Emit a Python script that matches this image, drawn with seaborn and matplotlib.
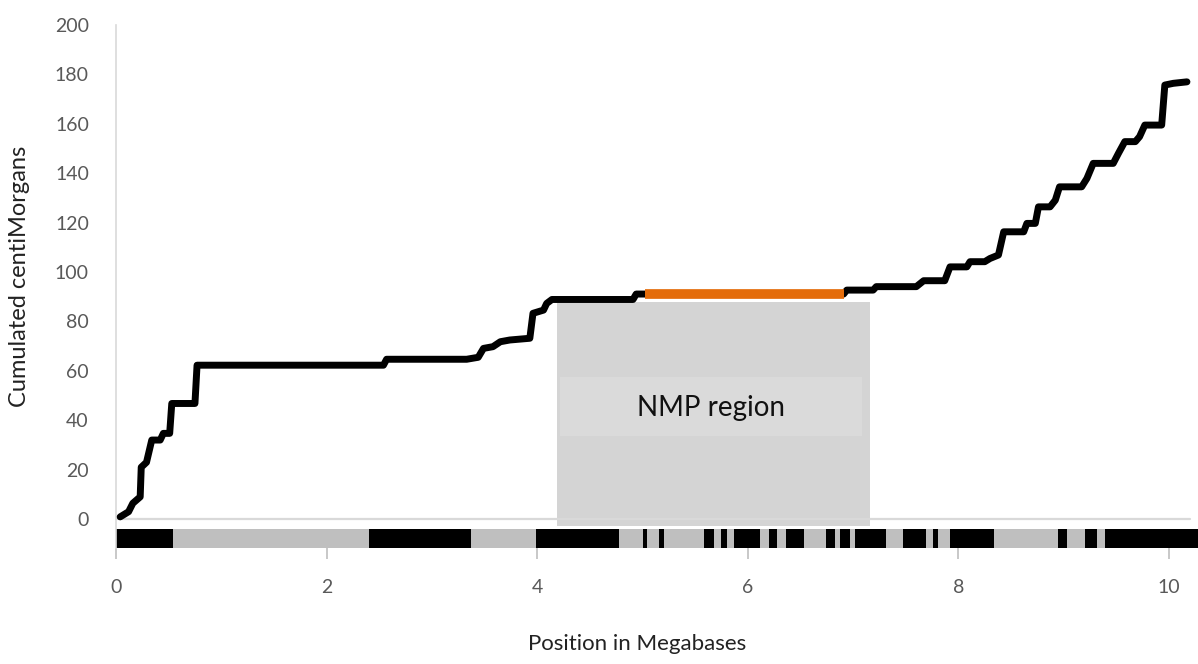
import matplotlib
matplotlib.use("Agg")
import matplotlib.pyplot as plt
import pandas as pd
import seaborn as sns

# cumulated genetic map (Mb vs cM)
position_mb = [
    0.04, 0.12, 0.16, 0.23, 0.24, 0.29, 0.34, 0.42, 0.45, 0.51, 0.53, 0.75, 0.77,
    2.54, 2.57, 3.33, 3.44, 3.49, 3.58, 3.65, 3.74, 3.93, 3.96, 4.06, 4.09, 4.14,
    4.91, 4.94, 5.02, 6.91, 6.94, 7.19, 7.22, 7.60, 7.67, 7.87, 7.92, 8.08, 8.11,
    8.25, 8.30, 8.38, 8.43, 8.62, 8.65, 8.73, 8.76, 8.87, 8.92, 8.96, 9.17, 9.22,
    9.28, 9.47, 9.52, 9.58, 9.68, 9.72, 9.77, 9.93, 9.96, 10.04, 10.17,
]
cumulated_cm = [
    0.9, 3.0, 6.4, 9.0, 21.0, 23.0, 32.0, 32.0, 34.7, 34.7, 46.8, 46.8, 62.3,
    62.3, 64.7, 64.7, 65.5, 69.1, 69.8, 71.8, 72.5, 73.2, 83.3, 84.6, 87.3, 88.9,
    88.9, 91.1, 91.1, 91.1, 92.7, 92.7, 94.1, 94.1, 96.5, 96.5, 102.1, 102.1, 104.2,
    104.2, 105.5, 106.9, 116.3, 116.3, 119.7, 119.7, 126.4, 126.4, 129.1, 134.5, 134.5, 137.9,
    144.0, 144.0, 148.1, 152.8, 152.8, 154.8, 159.5, 159.5, 175.7, 176.4, 177.0,
]

# NMP region and the recombination-free stretch inside it
nmp_start, nmp_end, nmp_top = 4.19, 7.16, 88.0
flat_start, flat_end, flat_cm = 5.02, 6.91, 91.1

# chromosome bar: black blocks over a grey background
chrom_end = 10.275
black_starts = [0.0, 2.40, 3.99, 5.00, 5.16, 5.58, 5.75, 5.87, 6.20, 6.36,
                6.74, 6.88, 7.02, 7.47, 7.76, 7.92, 8.95, 9.20, 9.39]
black_ends = [0.545, 3.37, 4.78, 5.04, 5.20, 5.68, 5.80, 6.12, 6.28, 6.53,
              6.83, 6.97, 7.31, 7.69, 7.81, 8.34, 9.03, 9.32, 10.275]

x_ticks = [0, 2, 4, 6, 8, 10]
y_ticks = [0, 20, 40, 60, 80, 100, 120, 140, 160, 180, 200]

sns.set_theme(style="white")
plt.rcParams["font.family"] = ["Lato", "DejaVu Sans"]

fig = plt.figure(figsize=(11.98, 6.64), dpi=100)
ax = fig.add_axes([0.0968, 0.1747, 0.9032, 0.7876])

bar_lo, bar_hi = -11.7, -4.0

# grey NMP box with the lighter label panel
ax.axvspan(nmp_start, nmp_end, ymin=(bar_hi + 1.2 - bar_lo) / (200 - bar_lo),
           ymax=(nmp_top - bar_lo) / (200 - bar_lo), color="#d4d4d4", lw=0, zorder=1)
ax.fill_between([nmp_start + 0.03, nmp_end - 0.08], 33.6, 57.5, color="#dadada", lw=0, zorder=1.5)
ax.text((nmp_start + nmp_end) / 2 - 0.02, 45, "NMP region", ha="center", va="center",
        fontsize=20, color="#111111", zorder=2)

ax.axhline(0, xmin=0, xmax=10.2 / chrom_end, color="#d9d9d9", lw=1.6, zorder=1.2)

df = pd.DataFrame({"Mb": position_mb, "cM": cumulated_cm})
sns.lineplot(data=df, x="Mb", y="cM", sort=False, estimator=None, color="black",
             lw=5, solid_capstyle="round", solid_joinstyle="round", ax=ax, zorder=3)
ax.plot([flat_start, flat_end], [flat_cm, flat_cm], color="#e46c0a", lw=7,
        solid_capstyle="butt", zorder=4)

ax.broken_barh([(0, chrom_end)], (bar_lo, bar_hi - bar_lo), facecolor="#bfbfbf",
               edgecolor="none", linewidth=0, zorder=2)
ax.broken_barh([(s, e - s) for s, e in zip(black_starts, black_ends)], (bar_lo, bar_hi - bar_lo),
               facecolor="black", edgecolor="none", linewidth=0, zorder=2.5)

ax.set_xlim(0, chrom_end)
ax.set_ylim(bar_lo, 200)
ax.set_xticks(x_ticks)
ax.set_yticks(y_ticks)

for side in ["top", "right", "bottom"]:
    ax.spines[side].set_visible(False)
ax.spines["left"].set_color("#d9d9d9")
ax.spines["left"].set_linewidth(1.2)

ax.tick_params(axis="x", bottom=True, length=8, width=1.2, color="#bfbfbf",
               labelsize=14, labelcolor="#595959", pad=14)
ax.tick_params(axis="y", left=False, labelsize=14, labelcolor="#595959", pad=13.5)

ax.set_xlabel("Position in Megabases", fontsize=16, color="#222222")
ax.set_ylabel("Cumulated centiMorgans", fontsize=17, color="#222222")
ax.xaxis.set_label_coords(0.482, -0.165)
ax.yaxis.set_label_coords(-0.079, 0.52)

fig.savefig("out.png", dpi=100)
